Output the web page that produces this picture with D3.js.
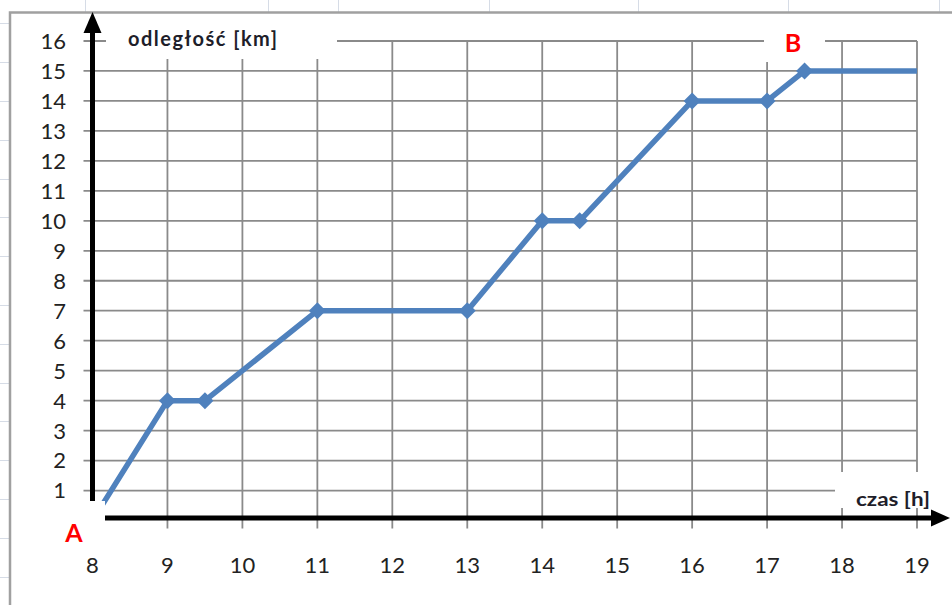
<!DOCTYPE html>
<html>
<head>
<meta charset="utf-8">
<script src="https://cdn.jsdelivr.net/npm/d3@7"></script>
<style>
  html, body { margin: 0; padding: 0; background: #ffffff; }
  svg { display: block; }
</style>
</head>
<body>
<script>
// Route from A to B: time of day [h] and distance [km]
const hours = [8, 9, 9.5, 11, 13, 14, 14.5, 16, 17, 17.5, 19];
const distance = [0, 4, 4, 7, 7, 10, 10, 14, 14, 15, 15];

// Axis ticks
const hourTicks = [8, 9, 10, 11, 12, 13, 14, 15, 16, 17, 18, 19];
const kmTicks = [1, 2, 3, 4, 5, 6, 7, 8, 9, 10, 11, 12, 13, 14, 15, 16];

// Text
const yTitle = "odległość [km]";
const xTitle = "czas [h]";
const startLabel = "A";
const endLabel = "B";

// Worksheet cell borders behind the chart object
const sheetRows = [23, 62, 101, 140, 179, 217, 256, 305, 344, 383, 421, 460, 499, 538, 577];
const sheetCols = [85, 268, 338, 489, 638, 788, 939];

const W = 952, H = 605;
const FONT = "Lato, 'Open Sans', sans-serif";

const svg = d3.select("body").append("svg")
  .attr("width", W).attr("height", H);

const x = d3.scaleLinear().domain([8, 19]).range([92.5, 917]);
const y = d3.scaleLinear().domain([0, 16]).range([520.5, 41]);

// sheet grid
const sheet = svg.append("g").attr("stroke", "#d6dce6").attr("stroke-width", 1);
sheet.selectAll("line.r").data(sheetRows).join("line")
  .attr("x1", 0).attr("x2", 9).attr("y1", d => d + 0.5).attr("y2", d => d + 0.5);
sheet.selectAll("line.c").data(sheetCols).join("line")
  .attr("x1", d => d + 0.5).attr("x2", d => d + 0.5).attr("y1", 0).attr("y2", 12);

// chart object frame
svg.append("rect")
  .attr("x", 10).attr("y", 12.5).attr("width", W + 20).attr("height", H + 20)
  .attr("fill", "#ffffff").attr("stroke", "#a0a0a0").attr("stroke-width", 2.5);

// gridlines
const grid = svg.append("g").attr("stroke", "#8a8a8a").attr("stroke-width", 1.8);
grid.selectAll("line.h").data(kmTicks).join("line")
  .attr("x1", x(8) - 9).attr("x2", x(19))
  .attr("y1", d => y(d)).attr("y2", d => y(d));
grid.selectAll("line.v").data(hourTicks.filter(h => h > 8)).join("line")
  .attr("x1", d => x(d)).attr("x2", d => x(d))
  .attr("y1", y(16)).attr("y2", y(0) + 8);

// tick labels
svg.append("g").selectAll("text").data(kmTicks).join("text")
  .attr("x", 66).attr("y", d => y(d)).attr("dy", "0.36em")
  .attr("text-anchor", "end")
  .attr("font-family", FONT).attr("font-size", 22).attr("fill", "#222")
  .text(d => d);
svg.append("g").selectAll("text").data(hourTicks).join("text")
  .attr("x", d => x(d)).attr("y", 573)
  .attr("text-anchor", "middle")
  .attr("font-family", FONT).attr("font-size", 22).attr("fill", "#222")
  .text(d => d);

// route line
const pts = hours.map((h, i) => [h, distance[i]]);
svg.append("path")
  .datum(pts)
  .attr("fill", "none").attr("stroke", "#4f81bd").attr("stroke-width", 5.5)
  .attr("stroke-linejoin", "round")
  .attr("d", d3.line().x(d => x(d[0])).y(d => y(d[1])));

// diamond markers
svg.append("g").selectAll("path").data(pts.slice(0, -1)).join("path")
  .attr("transform", d => `translate(${x(d[0])},${y(d[1])})`)
  .attr("d", "M0,-8.5L8.5,0L0,8.5L-8.5,0Z")
  .attr("fill", "#4f81bd");

// axis arrows
const axes = svg.append("g").attr("fill", "#000");
const x0 = x(8), yAx = y(0) - 2.5;
axes.append("line")
  .attr("x1", x0).attr("x2", x0).attr("y1", yAx).attr("y2", 28)
  .attr("stroke", "#000").attr("stroke-width", 5);
axes.append("path")
  .attr("d", `M${x0},12L${x0 + 9},33L${x0 - 9},33Z`);
axes.append("line")
  .attr("x1", x0).attr("x2", 934).attr("y1", yAx).attr("y2", yAx)
  .attr("stroke", "#000").attr("stroke-width", 5);
axes.append("path")
  .attr("d", `M950,${yAx}L931,${yAx - 8.5}L931,${yAx + 8.5}Z`);

// label boxes (white fill, no border)
const boxes = [
  [106, 22, 231, 37],   // y title
  [764, 22, 61, 40],    // B
  [835, 472, 110, 36],  // x title
  [50, 501, 55, 48]     // A
];
svg.append("g").selectAll("rect").data(boxes).join("rect")
  .attr("x", d => d[0]).attr("y", d => d[1])
  .attr("width", d => d[2]).attr("height", d => d[3])
  .attr("fill", "#ffffff");

// titles
svg.append("text")
  .attr("x", 128).attr("y", 46)
  .attr("font-family", FONT).attr("font-size", 20).attr("font-weight", "bold")
  .attr("textLength", 149).attr("lengthAdjust", "spacing")
  .attr("fill", "#1e1e2a")
  .text(yTitle);
svg.append("text")
  .attr("x", 856).attr("y", 506)
  .attr("font-family", FONT).attr("font-size", 19).attr("font-weight", "bold")
  .attr("textLength", 74).attr("lengthAdjust", "spacingAndGlyphs")
  .attr("fill", "#1e1e2a")
  .text(xTitle);
svg.append("text")
  .attr("x", 793).attr("y", 52).attr("text-anchor", "middle")
  .attr("font-family", FONT).attr("font-size", 25).attr("font-weight", "bold")
  .attr("fill", "#ff0000")
  .text(endLabel);
svg.append("text")
  .attr("x", 74).attr("y", 542).attr("text-anchor", "middle")
  .attr("font-family", FONT).attr("font-size", 25).attr("font-weight", "bold")
  .attr("fill", "#ff0000")
  .text(startLabel);
</script>
</body>
</html>
